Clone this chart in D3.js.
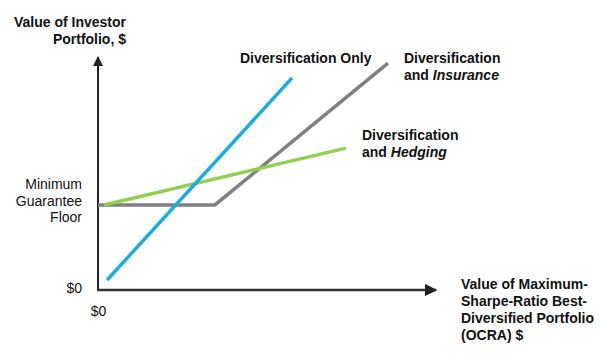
<!DOCTYPE html>
<html>
<head>
<meta charset="utf-8">
<script src="https://cdn.jsdelivr.net/npm/d3@7"></script>
<style>
	body { margin: 0; background: #fff; }
	text { font-family: "Liberation Sans", Arial, sans-serif; fill: #111; }
</style>
</head>
<body>
<div id="chart"></div>
<script>
// values, in a 0..100 unit space for both axes
const floorValue = 36.5
const diversificationOnly = [
	{ x: 2.7, y: 4.3 },
	{ x: 57.4, y: 91.0 },
]
const diversificationInsurance = [
	{ x: 0, y: 36.5 },
	{ x: 34.6, y: 36.5 },
	{ x: 85.8, y: 97.4 },
]
const diversificationHedging = [
	{ x: 1.8, y: 36.5 },
	{ x: 73.4, y: 60.9 },
]
const yTickValues = [0, floorValue]
const yTickLabels = [["$0"], ["Minimum", "Guarantee", "Floor"]]
const xTickValues = [0]
const xTickLabels = ["$0"]

const width = 600
const height = 354

const svg = d3
	.select("#chart")
	.append("svg")
	.attr("width", width)
	.attr("height", height)

const xScale = d3.scaleLinear().domain([0, 100]).range([98, 436])
const yScale = d3.scaleLinear().domain([0, 100]).range([290, 57])

// arrow heads
const defs = svg.append("defs")
defs.append("marker")
	.attr("id", "arrow")
	.attr("viewBox", "0 0 10 10")
	.attr("refX", 9)
	.attr("refY", 5)
	.attr("markerWidth", 5)
	.attr("markerHeight", 5)
	.attr("markerUnits", "strokeWidth")
	.attr("orient", "auto")
	.append("path")
	.attr("d", "M0,0 L10,5 L0,10 z")
	.attr("fill", "#222")

// axes lines with arrows
svg.append("line")
	.attr("x1", xScale(0))
	.attr("x2", xScale(0))
	.attr("y1", yScale(0) + 1)
	.attr("y2", yScale(100))
	.attr("stroke", "#222")
	.attr("stroke-width", 2)
	.attr("marker-end", "url(#arrow)")

svg.append("line")
	.attr("x1", xScale(0) - 1)
	.attr("x2", xScale(100))
	.attr("y1", yScale(0))
	.attr("y2", yScale(0))
	.attr("stroke", "#333")
	.attr("stroke-width", 2.5)
	.attr("marker-end", "url(#arrow)")

// y tick labels
const yAxis = svg.append("g")
	.attr("transform", `translate(${xScale(0) - 16},0)`)
	.call(d3.axisLeft(yScale).tickValues(yTickValues).tickSize(0).tickFormat(""))
yAxis.select(".domain").remove()
yAxis.selectAll(".tick").each(function (d, i) {
	const lines = yTickLabels[i]
	const t = d3.select(this).select("text")
		.attr("text-anchor", "end")
		.attr("x", 0)
		.attr("dy", null)
		.style("font-size", "14px")
		.style("font-family", "Liberation Sans, Arial, sans-serif")
		.attr("fill", "#111")
	lines.forEach((line, j) => {
		t.append("tspan")
			.attr("x", 0)
			.attr("y", lines.length > 1 ? -16 + j * 16.5 : 2)
			.text(line)
	})
})

// x tick labels
const xAxis = svg.append("g")
	.attr("transform", `translate(0,${yScale(0) + 13})`)
	.call(d3.axisBottom(xScale).tickValues(xTickValues).tickSize(0).tickFormat((d, i) => xTickLabels[i]))
xAxis.select(".domain").remove()
xAxis.selectAll("text")
	.style("font-size", "14px")
	.style("font-family", "Liberation Sans, Arial, sans-serif")
	.attr("fill", "#111")

// series lines
const line = d3.line().x((d) => xScale(d.x)).y((d) => yScale(d.y))

const series = [
	{ data: diversificationInsurance, color: "#808080" },
	{ data: diversificationHedging, color: "#92d050" },
	{ data: diversificationOnly, color: "#1aaee0" },
]
series.forEach((s) => {
	svg.append("path")
		.datum(s.data)
		.attr("fill", "none")
		.attr("stroke", s.color)
		.attr("stroke-width", 3.5)
		.attr("d", line)
})

// text blocks
function addText(x, y, lines, anchor) {
	const t = svg.append("text")
		.attr("text-anchor", anchor || "start")
		.style("font-size", "14px")
		.style("font-weight", "bold")
	lines.forEach((ln, i) => {
		const tsp = t.append("tspan").attr("x", x).attr("y", y + i * 17)
		ln.forEach((part) => {
			tsp.append("tspan")
				.style("font-style", part.italic ? "italic" : "normal")
				.text(part.text)
		})
	})
}

addText(126, 27, [[{ text: "Value of Investor" }], [{ text: "Portfolio, $" }]], "end")
addText(240, 63, [[{ text: "Diversification Only" }]])
addText(404, 63, [[{ text: "Diversification" }], [{ text: "and " }, { text: "Insurance", italic: true }]])
addText(362, 140, [[{ text: "Diversification" }], [{ text: "and " }, { text: "Hedging", italic: true }]])
addText(461, 289, [
	[{ text: "Value of Maximum-" }],
	[{ text: "Sharpe-Ratio Best-" }],
	[{ text: "Diversified Portfolio" }],
	[{ text: "(OCRA) $" }],
])
</script>
</body>
</html>
